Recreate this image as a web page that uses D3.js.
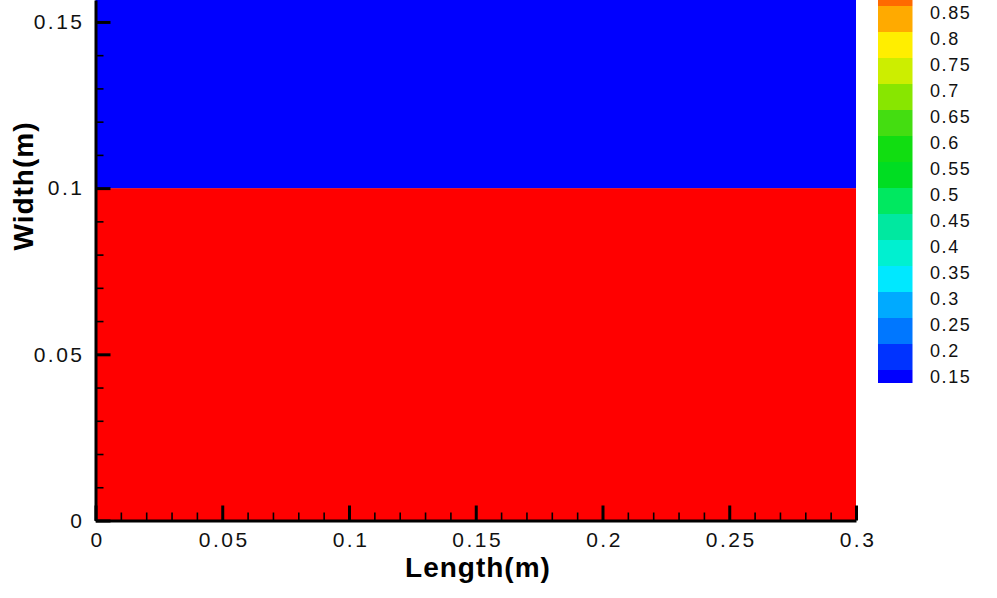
<!DOCTYPE html>
<html>
<head>
<meta charset="utf-8">
<script src="https://cdn.jsdelivr.net/npm/d3@7"></script>
<style>
  html, body { margin: 0; padding: 0; background: #ffffff; }
  svg { display: block; }
  .tick text { font-family: "Liberation Sans", Arial, sans-serif; }
</style>
</head>
<body>
<svg id="chart" width="997" height="598"></svg>
<script>
// ---- data ----
const xDomain = [0, 0.3];
const yDomain = [0, 0.1566];
const xMajorTicks = [0, 0.05, 0.1, 0.15, 0.2, 0.25, 0.3];
const xMinorTicks = [0.01,0.02,0.03,0.04,0.06,0.07,0.08,0.09,0.11,0.12,0.13,0.14,0.16,0.17,0.18,0.19,0.21,0.22,0.23,0.24,0.26,0.27,0.28,0.29];
const yMajorTicks = [0, 0.05, 0.1, 0.15];
const yMinorTicks = [0.01,0.02,0.03,0.04,0.06,0.07,0.08,0.09,0.11,0.12,0.13,0.14];
const xTickLabels = ["0", "0.05", "0.1", "0.15", "0.2", "0.25", "0.3"];
const yTickLabels = ["0", "0.05", "0.1", "0.15"];

// field: horizontal bands (length span full), y ranges and value
const bandXStart = [0, 0];
const bandXEnd = [0.3, 0.3];
const bandYStart = [0, 0.1];
const bandYEnd = [0.1, 0.1566];
const bandValue = [1.0, 0.1];

// contour levels & colors
const levels = [0.15,0.2,0.25,0.3,0.35,0.4,0.45,0.5,0.55,0.6,0.65,0.7,0.75,0.8,0.85,0.9,0.95];
const levelColors = ["#0000ff","#0033ff","#0077ff","#00aaff","#00e8ff","#00f0d0","#00e8a0","#00e860",
                     "#00dd22","#11dd11","#44dd11","#88e600","#ccee00","#ffee00","#ffaa00","#ff6a00","#ff3300","#ff0000"];
const legendLabels = ["0.15","0.2","0.25","0.3","0.35","0.4","0.45","0.5","0.55","0.6","0.65","0.7","0.75","0.8","0.85"];

const xAxisTitle = "Length(m)";
const yAxisTitle = "Width(m)";

// ---- drawing ----
const svg = d3.select("#chart");
const x = d3.scaleLinear().domain(xDomain).range([95.5, 856]);
const y = d3.scaleLinear().domain(yDomain).range([520.5, 0]);
const color = d3.scaleThreshold().domain(levels).range(levelColors);

// field bands
svg.append("g").selectAll("rect")
  .data(bandValue.map((v, i) => ({v, x0: bandXStart[i], x1: bandXEnd[i], y0: bandYStart[i], y1: bandYEnd[i]})))
  .join("rect")
  .attr("x", d => x(d.x0))
  .attr("width", d => x(d.x1) - x(d.x0))
  .attr("y", d => y(d.y1))
  .attr("height", d => y(d.y0) - y(d.y1))
  .attr("fill", d => color(d.v));

// minor ticks
svg.append("g")
  .attr("transform", `translate(0,${y(0)})`)
  .call(d3.axisBottom(x).tickValues(xMinorTicks).tickSize(-8).tickSizeOuter(0).tickFormat(""))
  .call(g => g.select(".domain").remove())
  .call(g => g.selectAll("line").attr("stroke", "#000").attr("stroke-width", 1.6));
svg.append("g")
  .attr("transform", `translate(${x(0)},0)`)
  .call(d3.axisLeft(y).tickValues(yMinorTicks).tickSize(-8).tickSizeOuter(0).tickFormat(""))
  .call(g => g.select(".domain").remove())
  .call(g => g.selectAll("line").attr("stroke", "#000").attr("stroke-width", 1.6));

// major axes
const xAxis = svg.append("g")
  .attr("transform", `translate(0,${y(0)})`)
  .call(d3.axisBottom(x).tickValues(xMajorTicks).tickSize(-15).tickSizeOuter(0).tickPadding(12)
        .tickFormat((d, i) => xTickLabels[i]));
xAxis.select(".domain").attr("stroke", "#000").attr("stroke-width", 3);
xAxis.selectAll("line").attr("stroke", "#000").attr("stroke-width", 3);
xAxis.selectAll("text").attr("font-size", 21).attr("fill", "#111")
  .attr("letter-spacing", "2.5px").attr("dx", 1.5);

const yAxis = svg.append("g")
  .attr("transform", `translate(${x(0)},0)`)
  .call(d3.axisLeft(y).tickValues(yMajorTicks).tickSize(-15).tickSizeOuter(0).tickPadding(11)
        .tickFormat((d, i) => yTickLabels[i]));
yAxis.select(".domain").attr("stroke", "#000").attr("stroke-width", 3);
yAxis.selectAll("line").attr("stroke", "#000").attr("stroke-width", 3);
yAxis.selectAll("text").attr("font-size", 21).attr("fill", "#111")
  .attr("letter-spacing", "2.5px");

// axis titles
svg.append("text")
  .attr("x", 478).attr("y", 577)
  .attr("text-anchor", "middle")
  .attr("font-family", "Liberation Sans, Arial, sans-serif")
  .attr("font-weight", "bold").attr("font-size", 28).attr("letter-spacing", "1px")
  .attr("fill", "#000")
  .text(xAxisTitle);
svg.append("text")
  .attr("transform", "translate(33,186) rotate(-90)")
  .attr("text-anchor", "middle")
  .attr("font-family", "Liberation Sans, Arial, sans-serif")
  .attr("font-weight", "bold").attr("font-size", 28).attr("letter-spacing", "1px")
  .attr("fill", "#000")
  .text(yAxisTitle);

// colour legend
const cb = d3.scaleLinear().domain([0.15, 0.85]).range([370, 6]);
const lg = svg.append("g");
const cbBlocks = [];
cbBlocks.push({lo: 0.125, hi: 0.15, c: levelColors[0]});
for (let i = 0; i < levels.length - 2; i++) {
  cbBlocks.push({lo: levels[i], hi: levels[i + 1], c: levelColors[i + 1]});
}
lg.selectAll("rect").data(cbBlocks).join("rect")
  .attr("x", 878).attr("width", 34.5)
  .attr("y", d => cb(d.hi))
  .attr("height", d => cb(d.lo) - cb(d.hi))
  .attr("fill", d => d.c);
lg.selectAll("text").data(legendLabels).join("text")
  .attr("x", 930)
  .attr("y", d => cb(+d) + 6.5)
  .attr("dy", "0.36em")
  .attr("font-family", "Liberation Sans, Arial, sans-serif")
  .attr("font-size", 18).attr("letter-spacing", "1.6px")
  .attr("fill", "#111")
  .text(d => d);
</script>
</body>
</html>
